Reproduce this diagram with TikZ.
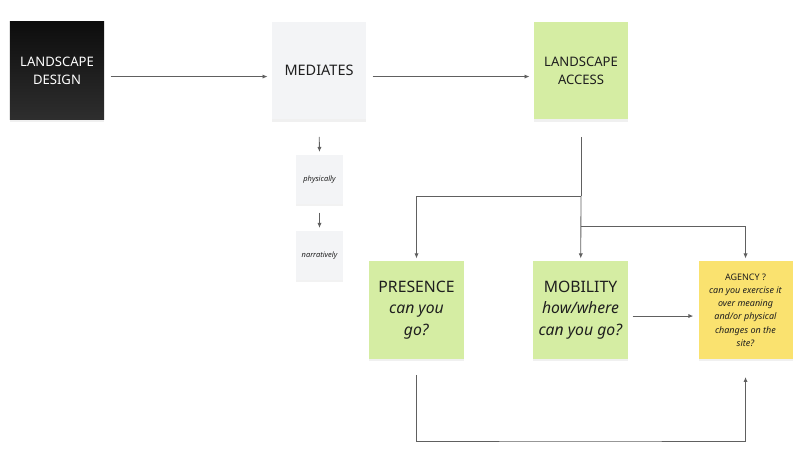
\documentclass[tikz,border=0pt]{standalone}
\usepackage{fontspec}
\setmainfont{Noto Sans}
\usetikzlibrary{positioning}
\usetikzlibrary{shadows}
\usetikzlibrary{arrows.meta}

\definecolor{notegreen}{HTML}{D5EDA3}
\definecolor{noteyellow}{HTML}{FAE26F}
\definecolor{notewhite}{HTML}{F3F4F6}
\definecolor{inkgray}{HTML}{1F1F1F}
\definecolor{linegray}{HTML}{606060}

\begin{document}
\begin{tikzpicture}[x=0.025cm, y=-0.025cm,
  every node/.style={align=center, text=inkgray, inner sep=1pt},
  note/.style={minimum width=2.35cm, minimum height=2.425cm,
    drop shadow={shadow xshift=0pt, shadow yshift=-2pt, opacity=0.12}},
  small note/.style={minimum width=1.175cm, minimum height=1.225cm, fill=notewhite,
    drop shadow={shadow xshift=0pt, shadow yshift=-1.5pt, opacity=0.10},
    font=\fontsize{5.3}{7}\selectfont\itshape},
  big/.style={font=\fontsize{9.3}{13}\selectfont},
  bigger/.style={font=\fontsize{11.2}{15.5}\selectfont},
  line/.style={draw=linegray, line width=0.6pt},
  link/.style={line, -{Latex[length=3.5pt, width=3pt]}}]
\useasboundingbox (0,0) rectangle (800,452);

% top row
\node[note, big, top color=black!95, bottom color=black!82, text=white] (LD) at (57,70.5) {LANDSCAPE\\DESIGN};
\node[note, fill=notewhite, font=\fontsize{10.3}{13}\selectfont] (ME) at (319,70.5) {MEDIATES};
\node[note, big, fill=notegreen] (LA) at (581,70.5) {LANDSCAPE\\ACCESS};

% small notes
\node[small note] (PH) at (319.5,179.5) {physically};
\node[small note] (NA) at (319.5,255.5) {narratively};

% bottom row
\node[note, bigger, fill=notegreen] (PR) at (416.5,310) {PRESENCE\\\textit{can you}\\\textit{go?}};
\node[note, bigger, fill=notegreen] (MO) at (580.5,310) {MOBILITY\\\textit{how/where}\\\textit{can you go?}};
\node[note, fill=noteyellow, font=\fontsize{6.4}{9.4}\selectfont] (AG) at (745.5,310) {AGENCY ?\\\textit{can you exercise it}\\\textit{over meaning}\\\textit{and/or physical}\\\textit{changes on the}\\\textit{site?}};

\coordinate (J1) at (581,196);
\coordinate (J2) at (581,226);
\coordinate (B) at (580,441);

\draw[link, shorten <=4.5pt, shorten >=3pt] ([yshift=-4.3pt]LD.east) -- ([yshift=-4.3pt]ME.west);
\draw[link, shorten <=4.5pt, shorten >=3pt] ([yshift=-4.3pt]ME.east) -- ([yshift=-4.3pt]LA.west);
\draw[link, shorten <=12.5pt, shorten >=2pt] (ME.south) -- (PH.north);
\draw[link, shorten <=6pt, shorten >=2pt] (PH.south) -- (NA.north);

\draw[line, shorten <=12.5pt] (LA) -- (J1);
\draw[link, shorten >=2pt] (J1) -| (PR);
\draw[link, shorten >=2pt] (J1) -- (MO);
\draw[link, shorten >=2pt] (J2) -| (AG);
\draw[link, shorten <=3.5pt, shorten >=3.5pt] ([yshift=-4.3pt]MO.east) -- ([yshift=-4.3pt]AG.west);
\draw[link, shorten <=11.5pt, shorten >=13pt] (PR) |- (B) -| (AG);
\end{tikzpicture}
\end{document}
